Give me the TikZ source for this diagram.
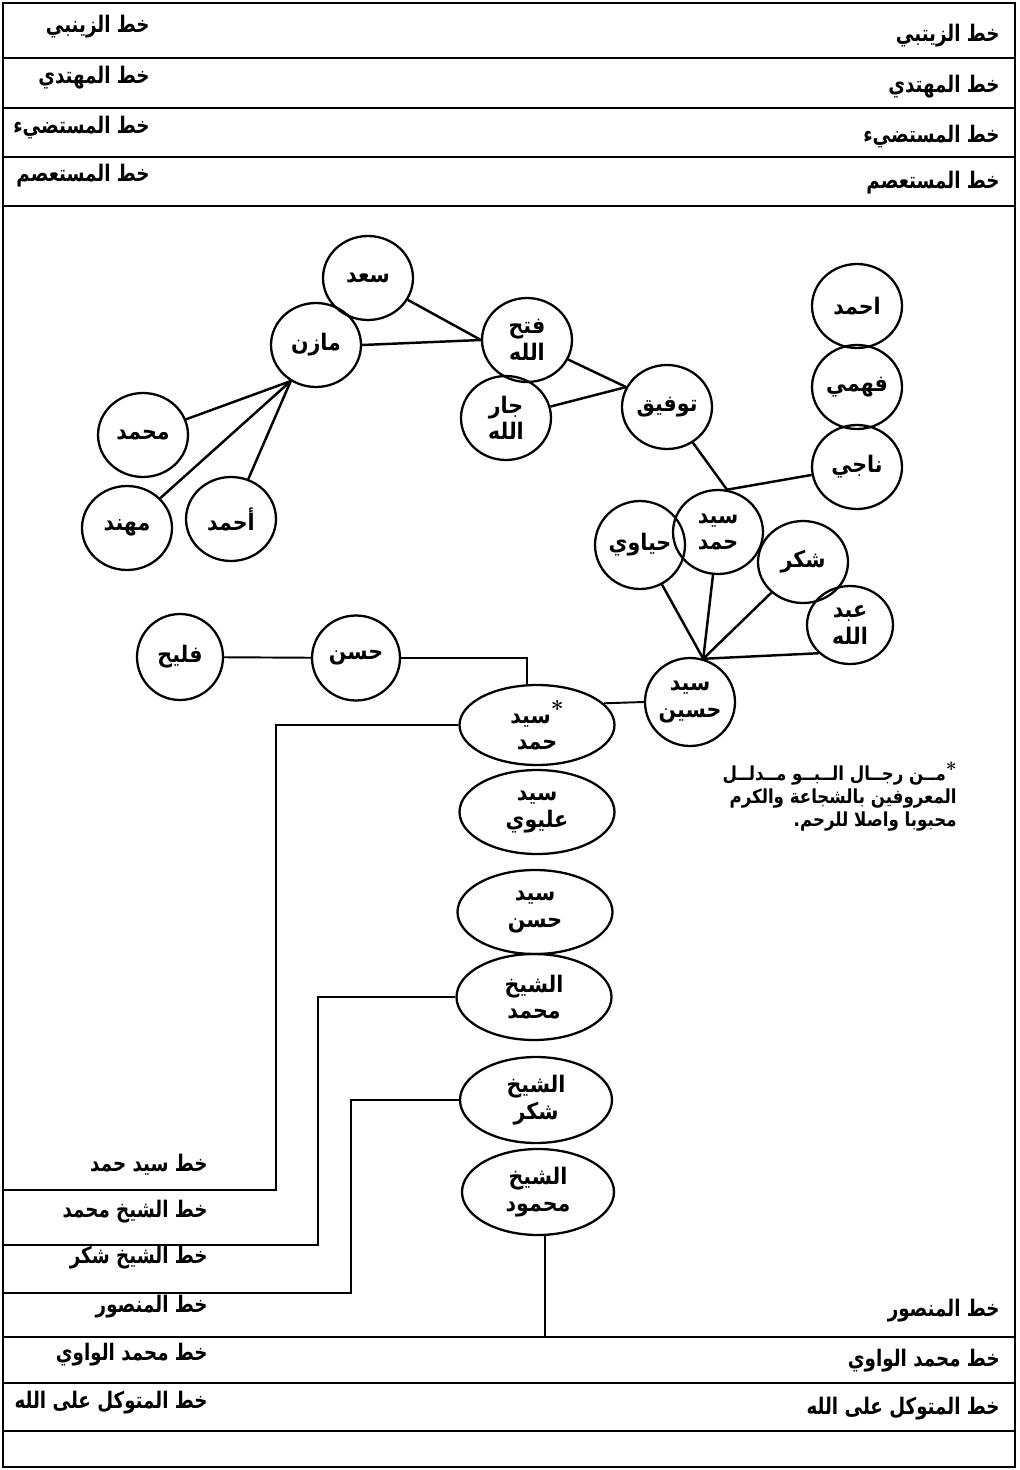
\documentclass[tikz,border=0pt]{standalone}
\usepackage{fontspec}
\usepackage{graphicx}
\usetikzlibrary{shapes.geometric,calc}
\TeXXeTstate=1
\newfontfamily\arabicfont[Script=Arabic]{DejaVu Sans}
\newcommand\artx[2][0.9]{\scalebox{#1}[1]{\arabicfont\bfseries\beginR #2\endR}}
\newcommand\lbtx[1]{\artx[0.8]{#1}}
\begin{document}
\begin{tikzpicture}[x=0.02cm,y=-0.02cm,
  nd/.style={ellipse,draw,line width=1.3pt,inner sep=0pt,align=center,
    font=\fontsize{13}{15}\selectfont},
  circ/.style={nd,minimum width=1.8cm,minimum height=1.68cm},
  oval/.style={nd,minimum width=3.1cm,minimum height=1.68cm},
  lab/.style={inner sep=0pt,anchor=east,font=\fontsize{13}{15}\selectfont},
  edge/.style={line width=1.4pt},
  tree/.style={line width=1.1pt},
  frame/.style={line width=1.6pt}]
\useasboundingbox (0,0) rectangle (1020,1470);
% frame and bands
\coordinate (TL) at (3,3);
\coordinate (BR) at (1015,1467);
\draw[frame] (TL) rectangle (BR);
\foreach \yy in {58,108,157,206,1337,1383,1431}{
  \draw[frame] (3,\yy) -- (1015,\yy);
}
% top labels
\node[lab] (tl1) at (150,27) {\lbtx{خط الزينبي}};
\node[lab] (tl2) at (150,78) {\lbtx{خط المهتدي}};
\node[lab] (tl3) at (150,128) {\lbtx{خط المستضيء}};
\node[lab] (tl4) at (150,176) {\lbtx{خط المستعصم}};
\node[lab] (tr1) at (1000,36) {\lbtx{خط الزيتبي}};
\node[lab] (tr2) at (1000,87) {\lbtx{خط المهتدي}};
\node[lab] (tr3) at (1000,137) {\lbtx{خط المستضيء}};
\node[lab] (tr4) at (1000,183) {\lbtx{خط المستعصم}};
% top graph nodes
\node[circ] (saad) at (368,278) {\artx{سعد}};
\node[circ] (mazen) at (316,345) {\artx{مازن}};
\node[circ] (mohd) at (143,435) {\artx{محمد}};
\node[circ] (muhannad) at (127,528) {\artx{مهند}};
\node[circ] (ahmadA) at (231,519) {\artx{أحمد}};
\node[circ] (fath) at (527,340) {\artx{فتح}\\\artx{الله}};
\node[circ] (jar) at (506,418) {\artx{جار}\\\artx{الله}};
\node[circ] (tawfiq) at (667,407) {\artx{توفيق}};
\node[circ] (ahmadB) at (857,306) {\artx{احمد}};
\node[circ] (fahmi) at (857,387) {\artx{فهمي}};
\node[circ] (naji) at (857,467) {\artx{ناجي}};
\node[circ] (shA) at (718,532) {\artx{سيد}\\\artx{حمد}};
\node[circ,minimum height=1.76cm] (hayawi) at (640,545) {\artx{حياوي}};
\node[circ,minimum height=1.64cm] (shukr) at (803,562) {\artx{شكر}};
\node[circ,minimum width=1.72cm,minimum height=1.56cm] (abd) at (850,625) {\artx{عبد}\\\artx{الله}};
\node[circ,minimum height=1.76cm] (husayn) at (690,702) {\artx{سيد}\\\artx{حسين}};
% top graph edges
\draw[edge] (saad) -- (fath.west);
\draw[edge] (mazen.east) -- (fath.west);
\draw[edge] (mazen.235) -- (mohd);
\draw[edge] (mazen.235) -- (muhannad);
\draw[edge] (mazen.235) -- (ahmadA);
\draw[edge] (fath) -- (tawfiq.154);
\draw[edge] (jar) -- (tawfiq.154);
\draw[edge] (tawfiq) -- (shA.78);
\draw[edge] (naji) -- (shA.78);
\draw[edge] (husayn.73) -- (hayawi);
\draw[edge] (husayn.73) -- (shA);
\draw[edge] (husayn.73) -- (shukr);
\draw[edge] (husayn.73) -- (abd.222);
% lower chain
\node[circ,minimum width=1.72cm,minimum height=1.72cm] (falih) at (180,657) {\artx{فليح}};
\node[circ,minimum width=1.76cm,minimum height=1.7cm] (hasan) at (356,658) {\artx{حسن}};
\node[oval,minimum height=1.6cm] (star) at (537,725) {\artx{سيد}\raisebox{0.6ex}{\bfseries *}\\\artx{حمد}};
\node[oval] (aliwi) at (537,812) {\artx{سيد}\\\artx{عليوي}};
\node[oval] (hasanB) at (535,912) {\artx{سيد}\\\artx{حسن}};
\node[oval,minimum height=1.72cm] (shmohd) at (534,997) {\artx{الشيخ}\\\artx{محمد}};
\node[oval,minimum width=3.04cm,minimum height=1.72cm] (shshukr) at (536,1100) {\artx{الشيخ}\\\artx{شكر}};
\node[oval,minimum width=3.04cm,minimum height=1.72cm] (shmahmud) at (538,1192) {\artx{الشيخ}\\\artx{محمود}};
\draw[tree] (falih) -- (hasan);
\draw[tree] (hasan.east) -| ($(star.north)+(-10,0)$);
\draw[tree] (star.18) -- (husayn.west);
% branch lines to the left frame
\coordinate (b1) at (276,1190);
\coordinate (b2) at (318,1245);
\coordinate (b3) at (351,1293);
\coordinate (b4) at (3,1190);
\coordinate (b5) at (3,1245);
\coordinate (b6) at (3,1293);
\draw[tree] (star.west) -| (b1) -- (b4);
\draw[tree] (shmohd.west) -| (b2) -- (b5);
\draw[tree] (shshukr.west) -| (b3) -- (b6);
\coordinate (m1) at (545,1337);
\draw[tree] (shmahmud.south -| m1) -- (m1);
% note
\node[inner sep=0pt,anchor=north east,align=right,
  font=\fontsize{11}{13.2}\selectfont] (note) at (957,762)
  {\artx[0.86]{مــن رجــال الــبــو مــدلــل}\raisebox{0.4ex}{\bfseries *}\\
   \artx[0.86]{المعروفين بالشجاعة والكرم}\\
   \artx[0.86]{محبوبا واصلا للرحم.}};
% bottom labels
\node[lab] (bl1) at (208,1165) {\lbtx{خط سيد حمد}};
\node[lab] (bl2) at (208,1212) {\lbtx{خط الشيخ محمد}};
\node[lab] (bl3) at (208,1258) {\lbtx{خط الشيخ شكر}};
\node[lab] (bl4) at (208,1307) {\lbtx{خط المنصور}};
\node[lab] (bl5) at (208,1355) {\lbtx{خط محمد الواوي}};
\node[lab] (bl6) at (208,1403) {\lbtx{خط المتوكل على الله}};
\node[lab] (br4) at (1000,1311) {\lbtx{خط المنصور}};
\node[lab] (br5) at (1000,1361) {\lbtx{خط محمد الواوي}};
\node[lab] (br6) at (1000,1409) {\lbtx{خط المتوكل على الله}};
\end{tikzpicture}
\end{document}
